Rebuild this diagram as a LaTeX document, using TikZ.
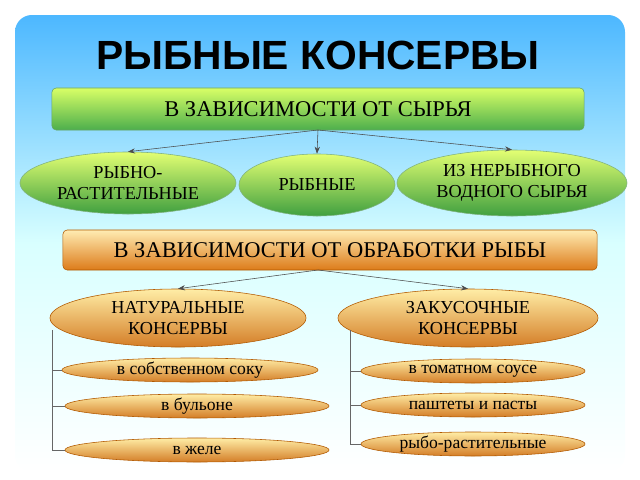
\documentclass[tikz,border=0pt]{standalone}
\usepackage{fontspec}
\setmainfont{Liberation Serif}
\newfontfamily\titlefont{Liberation Sans}
\usetikzlibrary{shapes.geometric,arrows.meta}

\tikzset{
  greenbox/.style={draw=green!40!black!60, rounded corners=3pt, top color=green!25!yellow!60, bottom color=green!55!black!70, minimum height=1.05cm, font=\fontsize{16}{18}\selectfont},
  orangebox/.style={draw=orange!70!black, rounded corners=3pt, top color=yellow!50!orange!30, bottom color=orange!85!black!90, minimum height=1cm, font=\fontsize{16}{18}\selectfont},
  greenoval/.style={ellipse, draw=green!40!black!50, top color=green!20!yellow!55, bottom color=green!50!black!75, align=center, inner sep=0pt, font=\fontsize{13}{15}\selectfont},
  orangeoval/.style={ellipse, draw=orange!70!black, top color=yellow!60!orange!35, bottom color=orange!80!black!85, align=center, inner sep=0pt, font=\fontsize{13}{15}\selectfont},
  smalloval/.style={orangeoval, minimum height=0.6cm, font=\fontsize{12.5}{14}\selectfont},
  arr/.style={-{Stealth[length=5pt]}, black!70},
  branch/.style={black!60, thin}
}

\begin{document}
\begin{tikzpicture}[x=0.025cm, y=-0.025cm]
  \useasboundingbox (0,0) rectangle (640,480);
  \shade[rounded corners=12pt, top color=cyan!60!blue!70, bottom color=white, middle color=cyan!15]
    (15,15) rectangle (625,472);

  \node (title) at (318,55) [font=\titlefont\bfseries\fontsize{29}{31}\selectfont] {РЫБНЫЕ КОНСЕРВЫ};

  % по сырью
  \node (raw) at (318,109) [greenbox, minimum width=13.3cm] {В ЗАВИСИМОСТИ ОТ СЫРЬЯ};
  \node (rp) at (128,183) [greenoval, minimum width=5.4cm, minimum height=1.55cm] {РЫБНО-\\РАСТИТЕЛЬНЫЕ};
  \node (fish) at (317,185) [greenoval, minimum width=3.9cm, minimum height=1.55cm] {РЫБНЫЕ};
  \node (nf) at (512,183) [greenoval, minimum width=5.75cm, minimum height=1.65cm] {ИЗ НЕРЫБНОГО\\ВОДНОГО СЫРЬЯ};
  \coordinate (rawb) at (318,130);
  \draw[arr] (rawb) to (rp.north);
  \draw[arr] (rawb) to (fish.north);
  \draw[arr] (rawb) to (nf.north);

  % по обработке
  \node (proc) at (330,250) [orangebox, minimum width=13.35cm] {В ЗАВИСИМОСТИ ОТ ОБРАБОТКИ РЫБЫ};
  \node (nat) at (178,318) [orangeoval, minimum width=6.4cm, minimum height=1.45cm] {НАТУРАЛЬНЫЕ\\КОНСЕРВЫ};
  \node (snack) at (468,318) [orangeoval, minimum width=6.5cm, minimum height=1.45cm] {ЗАКУСОЧНЫЕ\\КОНСЕРВЫ};
  \coordinate (procb) at (318,270);
  \draw[arr] (procb) to (nat.north);
  \draw[arr] (procb) to (snack.north);

  \node (own) at (190,370) [smalloval, minimum width=6.4cm] {в собственном соку};
  \node (broth) at (197,406) [smalloval, minimum width=6.6cm] {в бульоне};
  \node (jelly) at (197,450) [smalloval, minimum width=6.6cm] {в желе};
  \node (tom) at (473,371) [smalloval, minimum width=5.6cm] {в томатном соусе};
  \node (pate) at (473,405) [smalloval, minimum width=5.6cm] {паштеты и пасты};
  \node (veg) at (473,444) [smalloval, minimum width=5.6cm] {рыбо-растительные};

  \coordinate (lt) at (52,330);
  \coordinate (rt) at (350,330);
  \draw[branch] (lt) |- (jelly.west);
  \draw[branch] (lt |- own) to (own.west);
  \draw[branch] (lt |- broth) to (broth.west);
  \draw[branch] (rt) |- (veg.west);
  \draw[branch] (rt |- tom) to (tom.west);
  \draw[branch] (rt |- pate) to (pate.west);
\end{tikzpicture}
\end{document}
